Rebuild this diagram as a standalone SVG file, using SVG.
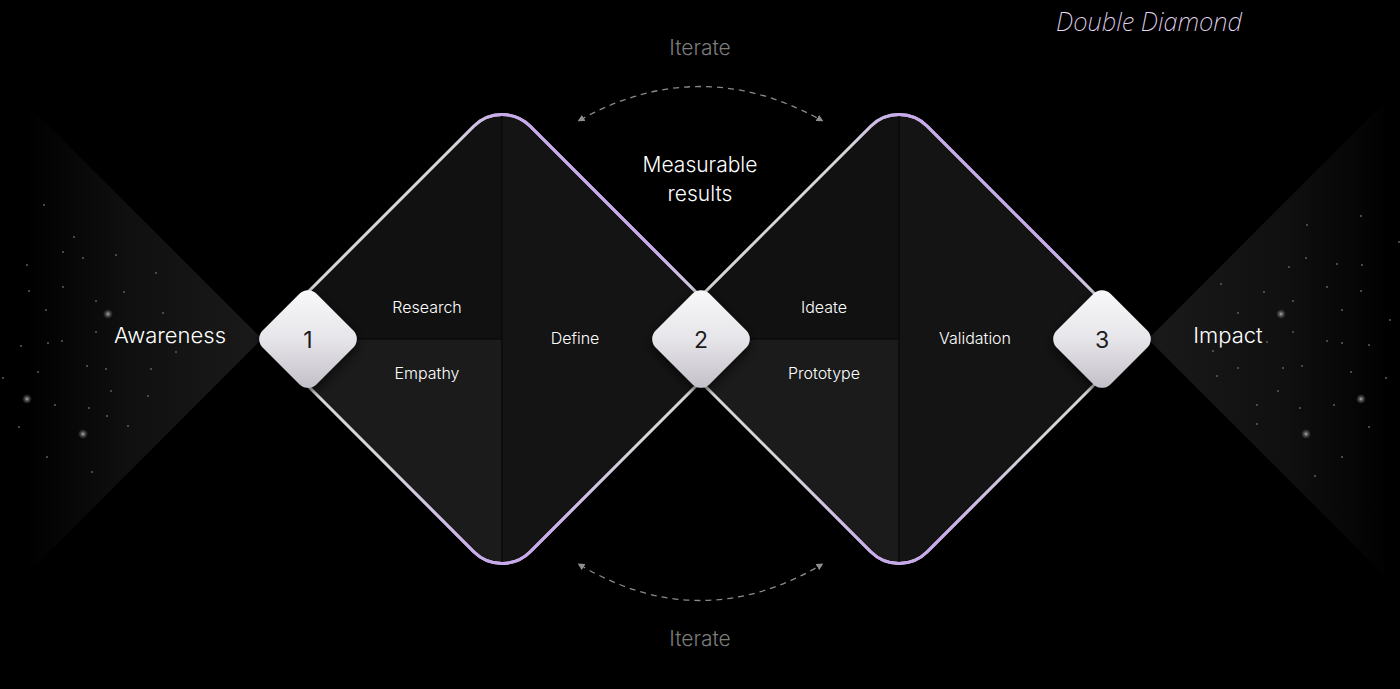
<svg xmlns="http://www.w3.org/2000/svg" width="1400" height="689" viewBox="0 0 1400 689">
  <defs>
    <style>
      .lbl { font-family: Inter, "Liberation Sans", sans-serif; fill: #ffffff; text-anchor: middle; }
      .big { font-size: 22px; font-weight: 300; }
      .mid { font-size: 21px; font-weight: 300; }
      .quad { font-size: 16px; font-weight: 300; }
      .iter { font-family: Inter, "Liberation Sans", sans-serif; font-size: 21px; font-weight: 300; fill: #7c7c7c; text-anchor: middle; }
      .num { font-family: Inter, "Liberation Sans", sans-serif; font-size: 23px; font-weight: 400; fill: #1c1c1e; text-anchor: middle; }
      .edge { fill: none; stroke: #d6d6d8; stroke-width: 3; }
      .div { stroke: #070707; stroke-width: 1.2; }
      .star { fill: #5e5e5e; }
      .arc { fill: none; stroke: #8a8a8a; stroke-width: 1.3; stroke-dasharray: 6 5; marker-start: url(#ah); marker-end: url(#ah); }
      .node { fill: url(#nodeGrad); filter: url(#shadow); }
    </style>
    <path id="dshape" d="M-28.28,-212.72 A40,40 0 0 1 28.28,-212.72 L212.72,-28.28 A40,40 0 0 1 212.72,28.28 L28.28,212.72 A40,40 0 0 1 -28.28,212.72 L-212.72,28.28 A40,40 0 0 1 -212.72,-28.28 Z"/>
    <clipPath id="dclip"><use href="#dshape"/></clipPath>
    <path id="nshape" d="M-8.49,-45.25 A12,12 0 0 1 8.49,-45.25 L45.25,-8.49 A12,12 0 0 1 45.25,8.49 L8.49,45.25 A12,12 0 0 1 -8.49,45.25 L-45.25,8.49 A12,12 0 0 1 -45.25,-8.49 Z"/>
    <linearGradient id="nodeGrad" x1="0" y1="0" x2="0" y2="1">
      <stop offset="0" stop-color="#f8f8fa"/>
      <stop offset="0.5" stop-color="#e6e5e9"/>
      <stop offset="1" stop-color="#c4c0c9"/>
    </linearGradient>
    <linearGradient id="purTop" gradientUnits="userSpaceOnUse" x1="-50" y1="0" x2="205" y2="0">
      <stop offset="0" stop-color="#c9a9ee" stop-opacity="0"/>
      <stop offset="0.18" stop-color="#c9a9ee" stop-opacity="1"/>
      <stop offset="0.8" stop-color="#c9a9ee" stop-opacity="1"/>
      <stop offset="1" stop-color="#c9a9ee" stop-opacity="0"/>
    </linearGradient>
    <linearGradient id="purBot" gradientUnits="userSpaceOnUse" x1="-115" y1="0" x2="135" y2="0">
      <stop offset="0" stop-color="#c9a9ee" stop-opacity="0"/>
      <stop offset="0.38" stop-color="#c9a9ee" stop-opacity="1"/>
      <stop offset="0.62" stop-color="#c9a9ee" stop-opacity="1"/>
      <stop offset="1" stop-color="#c9a9ee" stop-opacity="0"/>
    </linearGradient>
    <linearGradient id="fadeL" gradientUnits="userSpaceOnUse" x1="262" y1="0" x2="25" y2="0">
      <stop offset="0" stop-color="#1a1a1a"/>
      <stop offset="0.55" stop-color="#101010"/>
      <stop offset="1" stop-color="#000000"/>
    </linearGradient>
    <linearGradient id="fadeR" gradientUnits="userSpaceOnUse" x1="1148" y1="0" x2="1395" y2="0">
      <stop offset="0" stop-color="#1a1a1a"/>
      <stop offset="0.55" stop-color="#101010"/>
      <stop offset="1" stop-color="#000000"/>
    </linearGradient>
    <radialGradient id="glow">
      <stop offset="0" stop-color="#b5b5b5"/>
      <stop offset="0.35" stop-color="#707070" stop-opacity="0.8"/>
      <stop offset="1" stop-color="#555555" stop-opacity="0"/>
    </radialGradient>
    <marker id="ah" viewBox="0 0 10 10" refX="6" refY="5" markerWidth="7" markerHeight="7" markerUnits="userSpaceOnUse" orient="auto-start-reverse">
      <path d="M0,0 L10,5 L0,10 Z" fill="#8e8e8e"/>
    </marker>
    <filter id="shadow" x="-40%" y="-40%" width="180%" height="180%">
      <feDropShadow dx="0" dy="4" stdDeviation="6" flood-color="#000000" flood-opacity="0.7"/>
    </filter>
  </defs>

  <rect x="0" y="0" width="1400" height="689" fill="#000000"/>

  <!-- Left fading wedge -->
  <g id="left-fade">
    <polygon points="262,339 25,102 25,576" fill="url(#fadeL)"/>
    <g class="star">
      <circle cx="44" cy="205" r="1"/><circle cx="74" cy="237" r="1"/><circle cx="63" cy="252" r="1"/>
      <circle cx="83" cy="258" r="1"/><circle cx="116" cy="255" r="1"/><circle cx="27" cy="265" r="1"/>
      <circle cx="156" cy="273" r="1"/><circle cx="63" cy="287" r="1"/><circle cx="29" cy="291" r="1"/>
      <circle cx="124" cy="292" r="1"/><circle cx="96" cy="301" r="1"/><circle cx="46" cy="310" r="1"/>
      <circle cx="163" cy="313" r="1"/><circle cx="96" cy="332" r="1"/><circle cx="62" cy="341" r="1"/>
      <circle cx="48" cy="343" r="1"/><circle cx="21" cy="346" r="1"/><circle cx="176" cy="352" r="1"/>
      <circle cx="87" cy="366" r="1"/><circle cx="106" cy="369" r="1"/><circle cx="151" cy="369" r="1"/>
      <circle cx="38" cy="372" r="1"/><circle cx="3" cy="378" r="1"/><circle cx="111" cy="391" r="1"/>
      <circle cx="148" cy="396" r="1"/><circle cx="55" cy="405" r="1"/><circle cx="89" cy="408" r="1"/>
      <circle cx="107" cy="416" r="1"/><circle cx="128" cy="426" r="1"/><circle cx="19" cy="427" r="1"/>
      <circle cx="47" cy="457" r="1"/><circle cx="92" cy="472" r="1"/>
    </g>
    <circle cx="108" cy="314" r="5" fill="url(#glow)"/>
    <circle cx="27" cy="399" r="5" fill="url(#glow)"/>
    <circle cx="83" cy="434" r="5" fill="url(#glow)"/>
    <text class="lbl big" x="170" y="343">Awareness</text>
  </g>

  <!-- Right fading wedge -->
  <g id="right-fade">
    <polygon points="1148,339 1385,102 1385,576" fill="url(#fadeR)"/>
    <g class="star">
      <circle cx="1361" cy="216" r="1"/><circle cx="1307" cy="225" r="1"/><circle cx="1399" cy="242" r="1"/>
      <circle cx="1306" cy="258" r="1"/><circle cx="1289" cy="267" r="1"/><circle cx="1337" cy="264" r="1"/>
      <circle cx="1362" cy="265" r="1"/><circle cx="1327" cy="287" r="1"/><circle cx="1361" cy="291" r="1"/>
      <circle cx="1221" cy="284" r="1"/><circle cx="1264" cy="292" r="1"/><circle cx="1293" cy="301" r="1"/>
      <circle cx="1342" cy="310" r="1"/><circle cx="1238" cy="313" r="1"/><circle cx="1390" cy="320" r="1"/>
      <circle cx="1293" cy="332" r="1"/><circle cx="1327" cy="341" r="1"/><circle cx="1342" cy="343" r="1"/>
      <circle cx="1267" cy="342" r="1"/><circle cx="1369" cy="345" r="1"/><circle cx="1213" cy="351" r="1"/>
      <circle cx="1302" cy="366" r="1"/><circle cx="1283" cy="368" r="1"/><circle cx="1238" cy="368" r="1"/>
      <circle cx="1351" cy="372" r="1"/><circle cx="1217" cy="376" r="1"/><circle cx="1386" cy="378" r="1"/>
      <circle cx="1278" cy="391" r="1"/><circle cx="1334" cy="405" r="1"/><circle cx="1300" cy="408" r="1"/>
      <circle cx="1257" cy="405" r="1"/><circle cx="1257" cy="424" r="1"/><circle cx="1369" cy="427" r="1"/>
      <circle cx="1342" cy="457" r="1"/><circle cx="1315" cy="476" r="1"/>
    </g>
    <circle cx="1281" cy="314" r="5" fill="url(#glow)"/>
    <circle cx="1361" cy="399" r="5" fill="url(#glow)"/>
    <circle cx="1306" cy="434" r="5" fill="url(#glow)"/>
    <text class="lbl big" x="1228" y="343">Impact</text>
  </g>

  <!-- Diamond 1 -->
  <g id="diamond-1" transform="translate(502,339)">
    <g clip-path="url(#dclip)">
      <rect x="-241" y="-241" width="241" height="241" fill="#111111"/>
      <rect x="-241" y="0" width="241" height="241" fill="#1b1b1b"/>
      <rect x="0" y="-241" width="241" height="482" fill="#141414"/>
      <line class="div" x1="0" y1="-241" x2="0" y2="241"/>
      <line class="div" x1="-241" y1="0" x2="0" y2="0"/>
    </g>
    <use href="#dshape" class="edge"/>
    <path d="M-50,-191 L-28.28,-212.72 A40,40 0 0 1 28.28,-212.72 L205,-36" fill="none" stroke="url(#purTop)" stroke-width="3"/>
    <path d="M-115,126 L-28.28,212.72 A40,40 0 0 0 28.28,212.72 L135,106" fill="none" stroke="url(#purBot)" stroke-width="3"/>
    <text class="lbl quad" x="-75" y="-26">Research</text>
    <text class="lbl quad" x="-75" y="40">Empathy</text>
    <text class="lbl quad" x="73" y="5">Define</text>
  </g>

  <!-- Diamond 2 -->
  <g id="diamond-2" transform="translate(899,339)">
    <g clip-path="url(#dclip)">
      <rect x="-241" y="-241" width="241" height="241" fill="#111111"/>
      <rect x="-241" y="0" width="241" height="241" fill="#1b1b1b"/>
      <rect x="0" y="-241" width="241" height="482" fill="#141414"/>
      <line class="div" x1="0" y1="-241" x2="0" y2="241"/>
      <line class="div" x1="-241" y1="0" x2="0" y2="0"/>
    </g>
    <use href="#dshape" class="edge"/>
    <path d="M-50,-191 L-28.28,-212.72 A40,40 0 0 1 28.28,-212.72 L205,-36" fill="none" stroke="url(#purTop)" stroke-width="3"/>
    <path d="M-115,126 L-28.28,212.72 A40,40 0 0 0 28.28,212.72 L135,106" fill="none" stroke="url(#purBot)" stroke-width="3"/>
    <text class="lbl quad" x="-75" y="-26">Ideate</text>
    <text class="lbl quad" x="-75" y="40">Prototype</text>
    <text class="lbl quad" x="76" y="5">Validation</text>
  </g>

  <!-- Connectors -->
  <g id="connectors">
    <path class="arc" d="M580,120 Q700,53 821,120"/>
    <path class="arc" d="M580,565 Q700,636 821,565"/>
  </g>

  <!-- Nodes -->
  <g id="node-1" transform="translate(308,339)">
    <use href="#nshape" class="node"/>
    <text class="num" x="0" y="9">1</text>
  </g>
  <g id="node-2" transform="translate(701,339)">
    <use href="#nshape" class="node"/>
    <text class="num" x="0" y="9">2</text>
  </g>
  <g id="node-3" transform="translate(1102,339)">
    <use href="#nshape" class="node"/>
    <text class="num" x="0" y="9">3</text>
  </g>

  <!-- Labels -->
  <g id="labels">
    <text class="iter" x="700" y="55">Iterate</text>
    <text class="iter" x="700" y="646">Iterate</text>
    <text class="lbl mid" x="700" y="172">Measurable</text>
    <text class="lbl mid" x="700" y="201">results</text>
    <text x="1056" y="31" textLength="186" lengthAdjust="spacingAndGlyphs" font-family="'Noto Sans', 'DejaVu Sans', sans-serif" font-style="italic" font-weight="200" font-size="26" fill="#e4d8f2">Double Diamond</text>
  </g>
</svg>
